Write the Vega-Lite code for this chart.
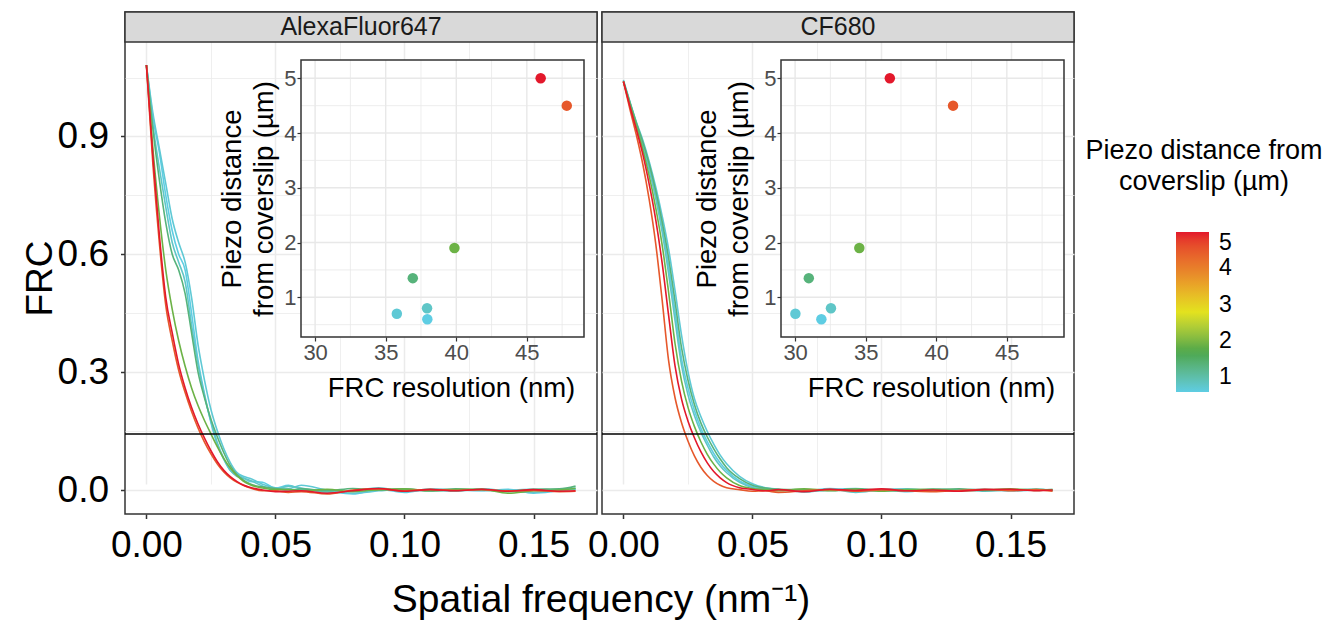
{
"$schema": "https://vega.github.io/schema/vega-lite/v6.json",
"padding": {"left": 20, "top": 10, "right": 0, "bottom": 0},
"config": {"font": "Liberation Sans", "view": {"stroke": null}},
"datasets": {
"curves": [
{"d":"A","p":0.6,"x":0,"y":1.082},{"d":"A","p":0.6,"x":0.0025,"y":0.95},{"d":"A","p":0.6,"x":0.005,"y":0.86},{"d":"A","p":0.6,"x":0.0075,"y":0.75},{"d":"A","p":0.6,"x":0.01,"y":0.66},{"d":"A","p":0.6,"x":0.0125,"y":0.6},{"d":"A","p":0.6,"x":0.015,"y":0.56},{"d":"A","p":0.6,"x":0.0175,"y":0.45},{"d":"A","p":0.6,"x":0.02,"y":0.33},{"d":"A","p":0.6,"x":0.0225,"y":0.245},{"d":"A","p":0.6,"x":0.025,"y":0.172},{"d":"A","p":0.6,"x":0.0275,"y":0.115},{"d":"A","p":0.6,"x":0.03,"y":0.078},{"d":"A","p":0.6,"x":0.0325,"y":0.05},{"d":"A","p":0.6,"x":0.035,"y":0.04},{"d":"A","p":0.6,"x":0.0375,"y":0.032},{"d":"A","p":0.6,"x":0.04,"y":0.022},{"d":"A","p":0.6,"x":0.045,"y":0.02},{"d":"A","p":0.6,"x":0.05,"y":0.005},{"d":"A","p":0.6,"x":0.055,"y":0.012},{"d":"A","p":0.6,"x":0.06,"y":0.002},{"d":"A","p":0.6,"x":0.07,"y":-0.004},{"d":"A","p":0.6,"x":0.08,"y":-0.01},{"d":"A","p":0.6,"x":0.09,"y":0.002},{"d":"A","p":0.6,"x":0.1,"y":-0.006},{"d":"A","p":0.6,"x":0.11,"y":0.003},{"d":"A","p":0.6,"x":0.12,"y":0},{"d":"A","p":0.6,"x":0.13,"y":-0.002},{"d":"A","p":0.6,"x":0.14,"y":0.002},{"d":"A","p":0.6,"x":0.15,"y":-0.008},{"d":"A","p":0.6,"x":0.16,"y":-0.002},{"d":"A","p":0.6,"x":0.1663,"y":0.002},
{"d":"A","p":0.7,"x":0,"y":1.082},{"d":"A","p":0.7,"x":0.0025,"y":0.96},{"d":"A","p":0.7,"x":0.005,"y":0.87},{"d":"A","p":0.7,"x":0.0075,"y":0.78},{"d":"A","p":0.7,"x":0.01,"y":0.69},{"d":"A","p":0.7,"x":0.0125,"y":0.63},{"d":"A","p":0.7,"x":0.015,"y":0.58},{"d":"A","p":0.7,"x":0.0175,"y":0.49},{"d":"A","p":0.7,"x":0.02,"y":0.37},{"d":"A","p":0.7,"x":0.0225,"y":0.28},{"d":"A","p":0.7,"x":0.025,"y":0.205},{"d":"A","p":0.7,"x":0.0275,"y":0.15},{"d":"A","p":0.7,"x":0.03,"y":0.105},{"d":"A","p":0.7,"x":0.0325,"y":0.07},{"d":"A","p":0.7,"x":0.035,"y":0.045},{"d":"A","p":0.7,"x":0.0375,"y":0.035},{"d":"A","p":0.7,"x":0.04,"y":0.03},{"d":"A","p":0.7,"x":0.045,"y":0.015},{"d":"A","p":0.7,"x":0.05,"y":0.006},{"d":"A","p":0.7,"x":0.055,"y":0.004},{"d":"A","p":0.7,"x":0.06,"y":0.012},{"d":"A","p":0.7,"x":0.07,"y":0},{"d":"A","p":0.7,"x":0.08,"y":-0.008},{"d":"A","p":0.7,"x":0.09,"y":-0.002},{"d":"A","p":0.7,"x":0.1,"y":0.003},{"d":"A","p":0.7,"x":0.11,"y":-0.003},{"d":"A","p":0.7,"x":0.12,"y":0.001},{"d":"A","p":0.7,"x":0.13,"y":-0.001},{"d":"A","p":0.7,"x":0.14,"y":0},{"d":"A","p":0.7,"x":0.15,"y":0.002},{"d":"A","p":0.7,"x":0.16,"y":0},{"d":"A","p":0.7,"x":0.1663,"y":0.003},
{"d":"A","p":0.8,"x":0,"y":1.082},{"d":"A","p":0.8,"x":0.0025,"y":0.93},{"d":"A","p":0.8,"x":0.005,"y":0.82},{"d":"A","p":0.8,"x":0.0075,"y":0.72},{"d":"A","p":0.8,"x":0.01,"y":0.63},{"d":"A","p":0.8,"x":0.0125,"y":0.58},{"d":"A","p":0.8,"x":0.015,"y":0.53},{"d":"A","p":0.8,"x":0.0175,"y":0.42},{"d":"A","p":0.8,"x":0.02,"y":0.32},{"d":"A","p":0.8,"x":0.0225,"y":0.24},{"d":"A","p":0.8,"x":0.025,"y":0.175},{"d":"A","p":0.8,"x":0.0275,"y":0.12},{"d":"A","p":0.8,"x":0.03,"y":0.08},{"d":"A","p":0.8,"x":0.0325,"y":0.05},{"d":"A","p":0.8,"x":0.035,"y":0.035},{"d":"A","p":0.8,"x":0.0375,"y":0.03},{"d":"A","p":0.8,"x":0.04,"y":0.025},{"d":"A","p":0.8,"x":0.045,"y":0.01},{"d":"A","p":0.8,"x":0.05,"y":0.002},{"d":"A","p":0.8,"x":0.055,"y":0.01},{"d":"A","p":0.8,"x":0.06,"y":0.005},{"d":"A","p":0.8,"x":0.07,"y":-0.006},{"d":"A","p":0.8,"x":0.08,"y":-0.002},{"d":"A","p":0.8,"x":0.09,"y":0.006},{"d":"A","p":0.8,"x":0.1,"y":-0.004},{"d":"A","p":0.8,"x":0.11,"y":0},{"d":"A","p":0.8,"x":0.12,"y":-0.003},{"d":"A","p":0.8,"x":0.13,"y":0.003},{"d":"A","p":0.8,"x":0.14,"y":-0.002},{"d":"A","p":0.8,"x":0.15,"y":-0.006},{"d":"A","p":0.8,"x":0.16,"y":0.001},{"d":"A","p":0.8,"x":0.1663,"y":0.005},
{"d":"A","p":1.35,"x":0,"y":1.082},{"d":"A","p":1.35,"x":0.0025,"y":0.92},{"d":"A","p":1.35,"x":0.005,"y":0.79},{"d":"A","p":1.35,"x":0.0075,"y":0.68},{"d":"A","p":1.35,"x":0.01,"y":0.6},{"d":"A","p":1.35,"x":0.0125,"y":0.56},{"d":"A","p":1.35,"x":0.015,"y":0.5},{"d":"A","p":1.35,"x":0.0175,"y":0.4},{"d":"A","p":1.35,"x":0.02,"y":0.3},{"d":"A","p":1.35,"x":0.0225,"y":0.235},{"d":"A","p":1.35,"x":0.025,"y":0.18},{"d":"A","p":1.35,"x":0.0275,"y":0.135},{"d":"A","p":1.35,"x":0.03,"y":0.095},{"d":"A","p":1.35,"x":0.0325,"y":0.062},{"d":"A","p":1.35,"x":0.035,"y":0.04},{"d":"A","p":1.35,"x":0.0375,"y":0.026},{"d":"A","p":1.35,"x":0.04,"y":0.016},{"d":"A","p":1.35,"x":0.045,"y":0.008},{"d":"A","p":1.35,"x":0.05,"y":0.004},{"d":"A","p":1.35,"x":0.055,"y":0},{"d":"A","p":1.35,"x":0.06,"y":0.003},{"d":"A","p":1.35,"x":0.07,"y":-0.002},{"d":"A","p":1.35,"x":0.08,"y":0.004},{"d":"A","p":1.35,"x":0.09,"y":0},{"d":"A","p":1.35,"x":0.1,"y":0.002},{"d":"A","p":1.35,"x":0.11,"y":-0.001},{"d":"A","p":1.35,"x":0.12,"y":0.003},{"d":"A","p":1.35,"x":0.13,"y":0},{"d":"A","p":1.35,"x":0.14,"y":-0.004},{"d":"A","p":1.35,"x":0.15,"y":0.002},{"d":"A","p":1.35,"x":0.16,"y":0.003},{"d":"A","p":1.35,"x":0.1663,"y":0.01},
{"d":"A","p":1.9,"x":0,"y":1.082},{"d":"A","p":1.9,"x":0.0025,"y":0.87},{"d":"A","p":1.9,"x":0.005,"y":0.7},{"d":"A","p":1.9,"x":0.0075,"y":0.56},{"d":"A","p":1.9,"x":0.01,"y":0.46},{"d":"A","p":1.9,"x":0.0125,"y":0.38},{"d":"A","p":1.9,"x":0.015,"y":0.315},{"d":"A","p":1.9,"x":0.0175,"y":0.26},{"d":"A","p":1.9,"x":0.02,"y":0.215},{"d":"A","p":1.9,"x":0.0225,"y":0.177},{"d":"A","p":1.9,"x":0.025,"y":0.143},{"d":"A","p":1.9,"x":0.0275,"y":0.11},{"d":"A","p":1.9,"x":0.03,"y":0.08},{"d":"A","p":1.9,"x":0.0325,"y":0.056},{"d":"A","p":1.9,"x":0.035,"y":0.037},{"d":"A","p":1.9,"x":0.0375,"y":0.023},{"d":"A","p":1.9,"x":0.04,"y":0.014},{"d":"A","p":1.9,"x":0.045,"y":0.005},{"d":"A","p":1.9,"x":0.05,"y":0.001},{"d":"A","p":1.9,"x":0.055,"y":0.002},{"d":"A","p":1.9,"x":0.06,"y":-0.003},{"d":"A","p":1.9,"x":0.07,"y":0.002},{"d":"A","p":1.9,"x":0.08,"y":-0.004},{"d":"A","p":1.9,"x":0.09,"y":0.001},{"d":"A","p":1.9,"x":0.1,"y":0.003},{"d":"A","p":1.9,"x":0.11,"y":-0.002},{"d":"A","p":1.9,"x":0.12,"y":0.001},{"d":"A","p":1.9,"x":0.13,"y":0.002},{"d":"A","p":1.9,"x":0.14,"y":-0.008},{"d":"A","p":1.9,"x":0.15,"y":-0.002},{"d":"A","p":1.9,"x":0.16,"y":0},{"d":"A","p":1.9,"x":0.1663,"y":0.004},
{"d":"A","p":4.5,"x":0,"y":1.082},{"d":"A","p":4.5,"x":0.0025,"y":0.83},{"d":"A","p":4.5,"x":0.005,"y":0.63},{"d":"A","p":4.5,"x":0.0075,"y":0.47},{"d":"A","p":4.5,"x":0.01,"y":0.38},{"d":"A","p":4.5,"x":0.0125,"y":0.305},{"d":"A","p":4.5,"x":0.015,"y":0.248},{"d":"A","p":4.5,"x":0.0175,"y":0.2},{"d":"A","p":4.5,"x":0.02,"y":0.158},{"d":"A","p":4.5,"x":0.0225,"y":0.122},{"d":"A","p":4.5,"x":0.025,"y":0.092},{"d":"A","p":4.5,"x":0.0275,"y":0.066},{"d":"A","p":4.5,"x":0.03,"y":0.046},{"d":"A","p":4.5,"x":0.0325,"y":0.031},{"d":"A","p":4.5,"x":0.035,"y":0.02},{"d":"A","p":4.5,"x":0.0375,"y":0.012},{"d":"A","p":4.5,"x":0.04,"y":0.006},{"d":"A","p":4.5,"x":0.045,"y":-0.002},{"d":"A","p":4.5,"x":0.05,"y":-0.002},{"d":"A","p":4.5,"x":0.055,"y":-0.006},{"d":"A","p":4.5,"x":0.06,"y":-0.004},{"d":"A","p":4.5,"x":0.07,"y":-0.01},{"d":"A","p":4.5,"x":0.08,"y":0},{"d":"A","p":4.5,"x":0.09,"y":0.003},{"d":"A","p":4.5,"x":0.1,"y":-0.002},{"d":"A","p":4.5,"x":0.11,"y":0.002},{"d":"A","p":4.5,"x":0.12,"y":-0.001},{"d":"A","p":4.5,"x":0.13,"y":0.001},{"d":"A","p":4.5,"x":0.14,"y":-0.002},{"d":"A","p":4.5,"x":0.15,"y":-0.001},{"d":"A","p":4.5,"x":0.16,"y":-0.004},{"d":"A","p":4.5,"x":0.1663,"y":-0.003},
{"d":"A","p":5,"x":0,"y":1.082},{"d":"A","p":5,"x":0.0025,"y":0.85},{"d":"A","p":5,"x":0.005,"y":0.65},{"d":"A","p":5,"x":0.0075,"y":0.49},{"d":"A","p":5,"x":0.01,"y":0.4},{"d":"A","p":5,"x":0.0125,"y":0.32},{"d":"A","p":5,"x":0.015,"y":0.26},{"d":"A","p":5,"x":0.0175,"y":0.21},{"d":"A","p":5,"x":0.02,"y":0.168},{"d":"A","p":5,"x":0.0225,"y":0.132},{"d":"A","p":5,"x":0.025,"y":0.1},{"d":"A","p":5,"x":0.0275,"y":0.072},{"d":"A","p":5,"x":0.03,"y":0.05},{"d":"A","p":5,"x":0.0325,"y":0.034},{"d":"A","p":5,"x":0.035,"y":0.022},{"d":"A","p":5,"x":0.0375,"y":0.013},{"d":"A","p":5,"x":0.04,"y":0.007},{"d":"A","p":5,"x":0.045,"y":0},{"d":"A","p":5,"x":0.05,"y":-0.004},{"d":"A","p":5,"x":0.055,"y":-0.003},{"d":"A","p":5,"x":0.06,"y":-0.002},{"d":"A","p":5,"x":0.07,"y":-0.008},{"d":"A","p":5,"x":0.08,"y":-0.002},{"d":"A","p":5,"x":0.09,"y":0.004},{"d":"A","p":5,"x":0.1,"y":-0.003},{"d":"A","p":5,"x":0.11,"y":0.001},{"d":"A","p":5,"x":0.12,"y":-0.002},{"d":"A","p":5,"x":0.13,"y":0.002},{"d":"A","p":5,"x":0.14,"y":-0.003},{"d":"A","p":5,"x":0.15,"y":0.001},{"d":"A","p":5,"x":0.16,"y":-0.003},{"d":"A","p":5,"x":0.1663,"y":-0.002},
{"d":"C","p":0.6,"x":0,"y":1.04},{"d":"C","p":0.6,"x":0.0025,"y":0.986},{"d":"C","p":0.6,"x":0.005,"y":0.932},{"d":"C","p":0.6,"x":0.0075,"y":0.881},{"d":"C","p":0.6,"x":0.01,"y":0.821},{"d":"C","p":0.6,"x":0.0125,"y":0.751},{"d":"C","p":0.6,"x":0.015,"y":0.669},{"d":"C","p":0.6,"x":0.0175,"y":0.57},{"d":"C","p":0.6,"x":0.02,"y":0.454},{"d":"C","p":0.6,"x":0.0225,"y":0.335},{"d":"C","p":0.6,"x":0.025,"y":0.26},{"d":"C","p":0.6,"x":0.0275,"y":0.203},{"d":"C","p":0.6,"x":0.03,"y":0.158},{"d":"C","p":0.6,"x":0.0325,"y":0.123},{"d":"C","p":0.6,"x":0.035,"y":0.093},{"d":"C","p":0.6,"x":0.0375,"y":0.069},{"d":"C","p":0.6,"x":0.04,"y":0.05},{"d":"C","p":0.6,"x":0.045,"y":0.023},{"d":"C","p":0.6,"x":0.05,"y":0.009},{"d":"C","p":0.6,"x":0.055,"y":0.003},{"d":"C","p":0.6,"x":0.06,"y":0},{"d":"C","p":0.6,"x":0.07,"y":-0.003},{"d":"C","p":0.6,"x":0.08,"y":0.004},{"d":"C","p":0.6,"x":0.09,"y":-0.002},{"d":"C","p":0.6,"x":0.1,"y":0.001},{"d":"C","p":0.6,"x":0.11,"y":-0.004},{"d":"C","p":0.6,"x":0.12,"y":0.002},{"d":"C","p":0.6,"x":0.13,"y":0},{"d":"C","p":0.6,"x":0.14,"y":0.002},{"d":"C","p":0.6,"x":0.15,"y":-0.002},{"d":"C","p":0.6,"x":0.16,"y":0.001},{"d":"C","p":0.6,"x":0.1663,"y":0},
{"d":"C","p":0.7,"x":0,"y":1.044},{"d":"C","p":0.7,"x":0.0025,"y":0.989},{"d":"C","p":0.7,"x":0.005,"y":0.937},{"d":"C","p":0.7,"x":0.0075,"y":0.891},{"d":"C","p":0.7,"x":0.01,"y":0.836},{"d":"C","p":0.7,"x":0.0125,"y":0.772},{"d":"C","p":0.7,"x":0.015,"y":0.698},{"d":"C","p":0.7,"x":0.0175,"y":0.614},{"d":"C","p":0.7,"x":0.02,"y":0.508},{"d":"C","p":0.7,"x":0.0225,"y":0.395},{"d":"C","p":0.7,"x":0.025,"y":0.302},{"d":"C","p":0.7,"x":0.0275,"y":0.233},{"d":"C","p":0.7,"x":0.03,"y":0.187},{"d":"C","p":0.7,"x":0.0325,"y":0.149},{"d":"C","p":0.7,"x":0.035,"y":0.117},{"d":"C","p":0.7,"x":0.0375,"y":0.089},{"d":"C","p":0.7,"x":0.04,"y":0.067},{"d":"C","p":0.7,"x":0.045,"y":0.035},{"d":"C","p":0.7,"x":0.05,"y":0.016},{"d":"C","p":0.7,"x":0.055,"y":0.006},{"d":"C","p":0.7,"x":0.06,"y":0.002},{"d":"C","p":0.7,"x":0.07,"y":-0.005},{"d":"C","p":0.7,"x":0.08,"y":0.001},{"d":"C","p":0.7,"x":0.09,"y":0.004},{"d":"C","p":0.7,"x":0.1,"y":-0.003},{"d":"C","p":0.7,"x":0.11,"y":0},{"d":"C","p":0.7,"x":0.12,"y":0.002},{"d":"C","p":0.7,"x":0.13,"y":-0.001},{"d":"C","p":0.7,"x":0.14,"y":0.001},{"d":"C","p":0.7,"x":0.15,"y":-0.002},{"d":"C","p":0.7,"x":0.16,"y":0},{"d":"C","p":0.7,"x":0.1663,"y":0.001},
{"d":"C","p":0.8,"x":0,"y":1.04},{"d":"C","p":0.8,"x":0.0025,"y":0.985},{"d":"C","p":0.8,"x":0.005,"y":0.93},{"d":"C","p":0.8,"x":0.0075,"y":0.877},{"d":"C","p":0.8,"x":0.01,"y":0.815},{"d":"C","p":0.8,"x":0.0125,"y":0.743},{"d":"C","p":0.8,"x":0.015,"y":0.657},{"d":"C","p":0.8,"x":0.0175,"y":0.551},{"d":"C","p":0.8,"x":0.02,"y":0.432},{"d":"C","p":0.8,"x":0.0225,"y":0.318},{"d":"C","p":0.8,"x":0.025,"y":0.243},{"d":"C","p":0.8,"x":0.0275,"y":0.19},{"d":"C","p":0.8,"x":0.03,"y":0.148},{"d":"C","p":0.8,"x":0.0325,"y":0.114},{"d":"C","p":0.8,"x":0.035,"y":0.084},{"d":"C","p":0.8,"x":0.0375,"y":0.061},{"d":"C","p":0.8,"x":0.04,"y":0.044},{"d":"C","p":0.8,"x":0.045,"y":0.0195},{"d":"C","p":0.8,"x":0.05,"y":0.0067},{"d":"C","p":0.8,"x":0.055,"y":0.0025},{"d":"C","p":0.8,"x":0.06,"y":0.001},{"d":"C","p":0.8,"x":0.07,"y":-0.004},{"d":"C","p":0.8,"x":0.08,"y":0.002},{"d":"C","p":0.8,"x":0.09,"y":-0.006},{"d":"C","p":0.8,"x":0.1,"y":0.001},{"d":"C","p":0.8,"x":0.11,"y":0.003},{"d":"C","p":0.8,"x":0.12,"y":-0.002},{"d":"C","p":0.8,"x":0.13,"y":0.001},{"d":"C","p":0.8,"x":0.14,"y":-0.003},{"d":"C","p":0.8,"x":0.15,"y":0},{"d":"C","p":0.8,"x":0.16,"y":0.002},{"d":"C","p":0.8,"x":0.1663,"y":-0.001},
{"d":"C","p":1.35,"x":0,"y":1.04},{"d":"C","p":1.35,"x":0.0025,"y":0.987},{"d":"C","p":1.35,"x":0.005,"y":0.935},{"d":"C","p":1.35,"x":0.0075,"y":0.886},{"d":"C","p":1.35,"x":0.01,"y":0.83},{"d":"C","p":1.35,"x":0.0125,"y":0.762},{"d":"C","p":1.35,"x":0.015,"y":0.683},{"d":"C","p":1.35,"x":0.0175,"y":0.591},{"d":"C","p":1.35,"x":0.02,"y":0.48},{"d":"C","p":1.35,"x":0.0225,"y":0.363},{"d":"C","p":1.35,"x":0.025,"y":0.28},{"d":"C","p":1.35,"x":0.0275,"y":0.218},{"d":"C","p":1.35,"x":0.03,"y":0.171},{"d":"C","p":1.35,"x":0.0325,"y":0.135},{"d":"C","p":1.35,"x":0.035,"y":0.105},{"d":"C","p":1.35,"x":0.0375,"y":0.079},{"d":"C","p":1.35,"x":0.04,"y":0.057},{"d":"C","p":1.35,"x":0.045,"y":0.029},{"d":"C","p":1.35,"x":0.05,"y":0.012},{"d":"C","p":1.35,"x":0.055,"y":0.005},{"d":"C","p":1.35,"x":0.06,"y":0.002},{"d":"C","p":1.35,"x":0.07,"y":0.001},{"d":"C","p":1.35,"x":0.08,"y":-0.002},{"d":"C","p":1.35,"x":0.09,"y":0.003},{"d":"C","p":1.35,"x":0.1,"y":0},{"d":"C","p":1.35,"x":0.11,"y":-0.002},{"d":"C","p":1.35,"x":0.12,"y":0.001},{"d":"C","p":1.35,"x":0.13,"y":0.003},{"d":"C","p":1.35,"x":0.14,"y":-0.001},{"d":"C","p":1.35,"x":0.15,"y":0},{"d":"C","p":1.35,"x":0.16,"y":0.002},{"d":"C","p":1.35,"x":0.1663,"y":-0.001},
{"d":"C","p":1.9,"x":0,"y":1.04},{"d":"C","p":1.9,"x":0.0025,"y":0.981},{"d":"C","p":1.9,"x":0.005,"y":0.925},{"d":"C","p":1.9,"x":0.0075,"y":0.867},{"d":"C","p":1.9,"x":0.01,"y":0.799},{"d":"C","p":1.9,"x":0.0125,"y":0.719},{"d":"C","p":1.9,"x":0.015,"y":0.624},{"d":"C","p":1.9,"x":0.0175,"y":0.504},{"d":"C","p":1.9,"x":0.02,"y":0.373},{"d":"C","p":1.9,"x":0.0225,"y":0.278},{"d":"C","p":1.9,"x":0.025,"y":0.211},{"d":"C","p":1.9,"x":0.0275,"y":0.162},{"d":"C","p":1.9,"x":0.03,"y":0.123},{"d":"C","p":1.9,"x":0.0325,"y":0.091},{"d":"C","p":1.9,"x":0.035,"y":0.066},{"d":"C","p":1.9,"x":0.0375,"y":0.046},{"d":"C","p":1.9,"x":0.04,"y":0.031},{"d":"C","p":1.9,"x":0.045,"y":0.0115},{"d":"C","p":1.9,"x":0.05,"y":0.004},{"d":"C","p":1.9,"x":0.055,"y":0.001},{"d":"C","p":1.9,"x":0.06,"y":-0.002},{"d":"C","p":1.9,"x":0.07,"y":0.003},{"d":"C","p":1.9,"x":0.08,"y":-0.001},{"d":"C","p":1.9,"x":0.09,"y":0.002},{"d":"C","p":1.9,"x":0.1,"y":-0.003},{"d":"C","p":1.9,"x":0.11,"y":0.001},{"d":"C","p":1.9,"x":0.12,"y":0.002},{"d":"C","p":1.9,"x":0.13,"y":-0.002},{"d":"C","p":1.9,"x":0.14,"y":0},{"d":"C","p":1.9,"x":0.15,"y":0.003},{"d":"C","p":1.9,"x":0.16,"y":-0.001},{"d":"C","p":1.9,"x":0.1663,"y":0.001},
{"d":"C","p":4.5,"x":0,"y":1.04},{"d":"C","p":4.5,"x":0.0025,"y":0.97},{"d":"C","p":4.5,"x":0.005,"y":0.904},{"d":"C","p":4.5,"x":0.0075,"y":0.83},{"d":"C","p":4.5,"x":0.01,"y":0.739},{"d":"C","p":4.5,"x":0.0125,"y":0.628},{"d":"C","p":4.5,"x":0.015,"y":0.484},{"d":"C","p":4.5,"x":0.0175,"y":0.33},{"d":"C","p":4.5,"x":0.02,"y":0.235},{"d":"C","p":4.5,"x":0.0225,"y":0.172},{"d":"C","p":4.5,"x":0.025,"y":0.125},{"d":"C","p":4.5,"x":0.0275,"y":0.087},{"d":"C","p":4.5,"x":0.03,"y":0.058},{"d":"C","p":4.5,"x":0.0325,"y":0.037},{"d":"C","p":4.5,"x":0.035,"y":0.022},{"d":"C","p":4.5,"x":0.0375,"y":0.012},{"d":"C","p":4.5,"x":0.04,"y":0.006},{"d":"C","p":4.5,"x":0.045,"y":0.001},{"d":"C","p":4.5,"x":0.05,"y":-0.003},{"d":"C","p":4.5,"x":0.055,"y":-0.002},{"d":"C","p":4.5,"x":0.06,"y":-0.006},{"d":"C","p":4.5,"x":0.07,"y":-0.002},{"d":"C","p":4.5,"x":0.08,"y":0.001},{"d":"C","p":4.5,"x":0.09,"y":-0.003},{"d":"C","p":4.5,"x":0.1,"y":0},{"d":"C","p":4.5,"x":0.11,"y":-0.002},{"d":"C","p":4.5,"x":0.12,"y":-0.004},{"d":"C","p":4.5,"x":0.13,"y":-0.001},{"d":"C","p":4.5,"x":0.14,"y":0.002},{"d":"C","p":4.5,"x":0.15,"y":-0.002},{"d":"C","p":4.5,"x":0.16,"y":0.001},{"d":"C","p":4.5,"x":0.1663,"y":-0.003},
{"d":"C","p":5,"x":0,"y":1.04},{"d":"C","p":5,"x":0.0025,"y":0.977},{"d":"C","p":5,"x":0.005,"y":0.918},{"d":"C","p":5,"x":0.0075,"y":0.855},{"d":"C","p":5,"x":0.01,"y":0.778},{"d":"C","p":5,"x":0.0125,"y":0.689},{"d":"C","p":5,"x":0.015,"y":0.578},{"d":"C","p":5,"x":0.0175,"y":0.445},{"d":"C","p":5,"x":0.02,"y":0.316},{"d":"C","p":5,"x":0.0225,"y":0.232},{"d":"C","p":5,"x":0.025,"y":0.176},{"d":"C","p":5,"x":0.0275,"y":0.133},{"d":"C","p":5,"x":0.03,"y":0.0975},{"d":"C","p":5,"x":0.0325,"y":0.069},{"d":"C","p":5,"x":0.035,"y":0.047},{"d":"C","p":5,"x":0.0375,"y":0.031},{"d":"C","p":5,"x":0.04,"y":0.019},{"d":"C","p":5,"x":0.045,"y":0.006},{"d":"C","p":5,"x":0.05,"y":0.0015},{"d":"C","p":5,"x":0.055,"y":-0.002},{"d":"C","p":5,"x":0.06,"y":0.001},{"d":"C","p":5,"x":0.07,"y":-0.004},{"d":"C","p":5,"x":0.08,"y":0.002},{"d":"C","p":5,"x":0.09,"y":-0.001},{"d":"C","p":5,"x":0.1,"y":0.003},{"d":"C","p":5,"x":0.11,"y":-0.002},{"d":"C","p":5,"x":0.12,"y":0},{"d":"C","p":5,"x":0.13,"y":-0.003},{"d":"C","p":5,"x":0.14,"y":0.001},{"d":"C","p":5,"x":0.15,"y":0.002},{"d":"C","p":5,"x":0.16,"y":-0.002},{"d":"C","p":5,"x":0.1663,"y":0}
],
"inset": [
{"d":"A","p":0.6,"res":37.95},{"d":"A","p":0.7,"res":35.79},{"d":"A","p":0.8,"res":37.93},{"d":"A","p":1.35,"res":36.92},{"d":"A","p":1.9,"res":39.87},{"d":"A","p":4.5,"res":47.83},{"d":"A","p":5,"res":45.98},
{"d":"C","p":0.6,"res":31.86},{"d":"C","p":0.7,"res":30.02},{"d":"C","p":0.8,"res":32.54},{"d":"C","p":1.35,"res":30.97},{"d":"C","p":1.9,"res":34.55},{"d":"C","p":4.5,"res":41.19},{"d":"C","p":5,"res":36.71}
],
"thr": [{"frc": 0.142857}],
"gx": [{"v":30,"k":"major"},{"v":32.5,"k":"minor"},{"v":35,"k":"major"},{"v":37.5,"k":"minor"},{"v":40,"k":"major"},{"v":42.5,"k":"minor"},{"v":45,"k":"major"},{"v":47.5,"k":"minor"}],
"gy": [{"v":0.5,"k":"minor"},{"v":1,"k":"major"},{"v":1.5,"k":"minor"},{"v":2,"k":"major"},{"v":2.5,"k":"minor"},{"v":3,"k":"major"},{"v":3.5,"k":"minor"},{"v":4,"k":"major"},{"v":4.5,"k":"minor"},{"v":5,"k":"major"}]
},
"hconcat": [
{
"width": 472, "height": 502,
"view": {"stroke": "#333333", "strokeWidth": 1.5},
"resolve": {"scale": {"x": "independent", "y": "independent"}},
"layer": [
{
"layer": [
{
"data": {"name": "curves"},
"transform": [{"filter": "datum.d === 'A'"}],
"mark": {"type": "line", "strokeWidth": 1.6, "interpolate": "monotone"},
"encoding": {
"x": {"field": "x", "type": "quantitative", "scale": {"domain": [-0.0083, 0.1746], "nice": false, "zero": false},
"axis": {"orient": "bottom", "values": [0, 0.025, 0.05, 0.075, 0.1, 0.125, 0.15],
"labelExpr": "abs(datum.value*20 - round(datum.value*20)) < 0.000001 ? format(datum.value, '.2f') : ''",
"grid": true, "gridColor": "#ebebeb",
"gridWidth": {"condition": {"test": "abs(datum.value*20 - round(datum.value*20)) < 0.000001", "value": 1.5}, "value": 0.8},
"tickOpacity": {"condition": {"test": "abs(datum.value*20 - round(datum.value*20)) < 0.000001", "value": 1}, "value": 0},
"tickColor": "#333333", "tickSize": 4.5, "tickWidth": 1.5, "domain": false,
"labelFontSize": 37, "labelColor": "#000000", "labelPadding": 9, "labelFlush": false, "labelOverlap": false,
"title": "Spatial frequency (nm⁻¹)", "titleFontSize": 39, "titleFontWeight": "normal", "titleColor": "#000000",
"titleX": 475.5, "titleY": 97, "titleBaseline": "alphabetic", "titleAlign": "center"}},
"y": {"field": "y", "type": "quantitative", "scale": {"domain": [-0.061, 1.1405], "range": [502, 30], "nice": false, "zero": false},
"axis": {"orient": "left", "values": [0, 0.15, 0.3, 0.45, 0.6, 0.75, 0.9, 1.05],
"labelExpr": "abs(datum.value/0.3 - round(datum.value/0.3)) < 0.000001 ? format(datum.value, '.1f') : ''",
"grid": true, "gridColor": "#ebebeb",
"gridWidth": {"condition": {"test": "abs(datum.value/0.3 - round(datum.value/0.3)) < 0.000001", "value": 1.5}, "value": 0.8},
"tickOpacity": {"condition": {"test": "abs(datum.value/0.3 - round(datum.value/0.3)) < 0.000001", "value": 1}, "value": 0},
"tickColor": "#333333", "tickSize": 4.5, "tickWidth": 1.5, "domain": false,
"labelFontSize": 37, "labelColor": "#000000", "labelPadding": 12, "labelOverlap": false, "labelFlush": false,
"title": "FRC", "titleFontSize": 37, "titleFontWeight": "normal", "titleColor": "#000000",
"titleX": -74, "titleY": 266, "titleAngle": 270, "titleBaseline": "alphabetic", "titleAlign": "center"}},
"stroke": {"field": "p", "type": "quantitative",
"scale": {"type": "linear", "domain": [0.6, 1.7, 2.8, 3.9, 5.0], "range": ["#5ecde3", "#4ba74a", "#e3e21e", "#e8862a", "#e3182b"], "interpolate": "lab"},
"legend": {"type": "gradient", "orient": "none", "legendX": 960, "legendY": 126, "direction": "vertical", "padding": 0,
"title": ["Piezo distance from", "coverslip (µm)"], "titleFontSize": 27, "titleFontWeight": "normal", "titleColor": "#000000", "titleLimit": 600,
"titleAnchor": "middle", "titleAlign": "center", "titleLineHeight": 31, "titlePadding": 36,
"gradientLength": 160, "gradientThickness": 33, "gradientStrokeWidth": 0,
"labelFontSize": 23, "labelColor": "#000000", "labelOffset": 10, "values": [1, 2, 3, 4, 5]}},
"detail": {"field": "p", "type": "nominal"}
}
},
{
"data": {"name": "thr"},
"mark": {"type": "rule", "color": "#000000", "strokeWidth": 1.5},
"encoding": {"y": {"field": "frc", "type": "quantitative", "scale": {"domain": [-0.061, 1.1405], "range": [502, 30], "nice": false, "zero": false}}}
}
]
},
{
"layer": [
{
"data": {"values": [{"lab": "AlexaFluor647"}]},
"mark": {"type": "rect", "fill": "#d9d9d9", "stroke": "#333333", "strokeWidth": 1.5},
"encoding": {
"x": {"datum": 0, "type": "quantitative", "scale": {"domain": [0, 1], "range": [0, 472], "nice": false, "zero": false}, "axis": null},
"x2": {"datum": 1},
"y": {"datum": 0, "type": "quantitative", "scale": {"domain": [0, 1], "range": [30, 0], "nice": false, "zero": false}, "axis": null},
"y2": {"datum": 1}
}
},
{
"data": {"values": [{"lab": "AlexaFluor647"}]},
"mark": {"type": "text", "fontSize": 25, "color": "#1a1a1a"},
"encoding": {
"x": {"datum": 0.5, "type": "quantitative", "scale": {"domain": [0, 1], "range": [0, 472], "nice": false, "zero": false}, "axis": null},
"y": {"datum": 0.5, "type": "quantitative", "scale": {"domain": [0, 1], "range": [30, 0], "nice": false, "zero": false}, "axis": null},
"text": {"field": "lab", "type": "nominal"}
}
}
]
},
{
"layer": [
{
"data": {"values": [{}]},
"mark": {"type": "rect", "fill": "#ffffff", "stroke": null},
"encoding": {
"x": {"datum": 29.0, "type": "quantitative", "scale": {"domain": [29.0, 49.05], "range": [176, 459], "nice": false, "zero": false}},
"x2": {"datum": 49.05},
"y": {"datum": 0.275, "type": "quantitative", "scale": {"domain": [0.275, 5.334], "range": [325, 48], "nice": false, "zero": false}},
"y2": {"datum": 5.334}
}
},
{
"data": {"name": "gx"},
"mark": {"type": "rule", "color": "#e8e8e8"},
"encoding": {
"x": {"field": "v", "type": "quantitative", "scale": {"domain": [29.0, 49.05], "range": [176, 459], "nice": false, "zero": false}},
"y": {"datum": 0.275, "type": "quantitative", "scale": {"domain": [0.275, 5.334], "range": [325, 48], "nice": false, "zero": false}},
"y2": {"datum": 5.334},
"strokeWidth": {"field": "k", "type": "nominal", "scale": {"domain": ["major", "minor"], "range": [1.4, 0.8]}, "legend": null}
}
},
{
"data": {"name": "gy"},
"mark": {"type": "rule", "color": "#e8e8e8"},
"encoding": {
"y": {"field": "v", "type": "quantitative", "scale": {"domain": [0.275, 5.334], "range": [325, 48], "nice": false, "zero": false}},
"x": {"datum": 29.0, "type": "quantitative", "scale": {"domain": [29.0, 49.05], "range": [176, 459], "nice": false, "zero": false}},
"x2": {"datum": 49.05},
"strokeWidth": {"field": "k", "type": "nominal", "scale": {"domain": ["major", "minor"], "range": [1.4, 0.8]}, "legend": null}
}
},
{
"data": {"values": [{}]},
"mark": {"type": "rect", "fill": null, "fillOpacity": 0, "stroke": "#333333", "strokeWidth": 1.5},
"encoding": {
"x": {"datum": 29.0, "type": "quantitative", "scale": {"domain": [29.0, 49.05], "range": [176, 459], "nice": false, "zero": false}},
"x2": {"datum": 49.05},
"y": {"datum": 0.275, "type": "quantitative", "scale": {"domain": [0.275, 5.334], "range": [325, 48], "nice": false, "zero": false}},
"y2": {"datum": 5.334}
}
},
{
"data": {"name": "inset"},
"transform": [{"filter": "datum.d === 'A'"}],
"mark": {"type": "circle", "size": 110, "opacity": 1},
"encoding": {
"x": {"field": "res", "type": "quantitative", "scale": {"domain": [29.0, 49.05], "range": [176, 459], "nice": false, "zero": false},
"axis": {"orient": "bottom", "offset": -177, "values": [30, 35, 40, 45], "format": ".0f", "grid": false, "domain": false,
"tickColor": "#333333", "tickSize": 4, "tickWidth": 1.2, "labelFontSize": 22, "labelColor": "#4d4d4d", "labelPadding": 1, "labelFlush": false,
"title": "FRC resolution (nm)", "titleFontSize": 27.5, "titleFontWeight": "normal", "titleColor": "#000000",
"titleX": 326, "titleY": 37, "titleBaseline": "top", "titleAlign": "center"}},
"y": {"field": "p", "type": "quantitative", "scale": {"domain": [0.275, 5.334], "range": [325, 48], "nice": false, "zero": false},
"axis": {"orient": "left", "offset": -176, "values": [1, 2, 3, 4, 5], "format": ".0f", "grid": false, "domain": false,
"tickColor": "#333333", "tickSize": 4, "tickWidth": 1.2, "labelFontSize": 22, "labelColor": "#4d4d4d", "labelPadding": 1, "labelFlush": false,
"title": ["Piezo distance", "from coverslip (µm)"], "titleFontSize": 27.5, "titleFontWeight": "normal", "titleColor": "#000000",
"titleX": -61, "titleY": 186.5, "titleAngle": 270, "titleBaseline": "alphabetic", "titleAlign": "center", "titleLineHeight": 32}},
"fill": {"field": "p", "type": "quantitative", "scale": {"type": "linear", "domain": [0.6, 1.7, 2.8, 3.9, 5.001], "range": ["#5ecde3", "#4ba74a", "#e3e21e", "#e8862a", "#e3182b"], "interpolate": "lab"}, "legend": null}
}
}
]
}
]
},
{
"width": 472, "height": 502,
"view": {"stroke": "#333333", "strokeWidth": 1.5},
"resolve": {"scale": {"x": "independent", "y": "independent"}},
"layer": [
{
"layer": [
{
"data": {"name": "curves"},
"transform": [{"filter": "datum.d === 'C'"}],
"mark": {"type": "line", "strokeWidth": 1.6, "interpolate": "monotone"},
"encoding": {
"x": {"field": "x", "type": "quantitative", "scale": {"domain": [-0.0083, 0.1746], "nice": false, "zero": false},
"axis": {"orient": "bottom", "values": [0, 0.025, 0.05, 0.075, 0.1, 0.125, 0.15],
"labelExpr": "abs(datum.value*20 - round(datum.value*20)) < 0.000001 ? format(datum.value, '.2f') : ''",
"grid": true, "gridColor": "#ebebeb",
"gridWidth": {"condition": {"test": "abs(datum.value*20 - round(datum.value*20)) < 0.000001", "value": 1.5}, "value": 0.8},
"tickOpacity": {"condition": {"test": "abs(datum.value*20 - round(datum.value*20)) < 0.000001", "value": 1}, "value": 0},
"tickColor": "#333333", "tickSize": 4.5, "tickWidth": 1.5, "domain": false,
"labelFontSize": 37, "labelColor": "#000000", "labelPadding": 9, "labelFlush": false, "labelOverlap": false,
"title": null}},
"y": {"field": "y", "type": "quantitative", "scale": {"domain": [-0.061, 1.1405], "range": [502, 30], "nice": false, "zero": false},
"axis": {"orient": "left", "values": [0, 0.15, 0.3, 0.45, 0.6, 0.75, 0.9, 1.05],
"grid": true, "gridColor": "#ebebeb",
"gridWidth": {"condition": {"test": "abs(datum.value/0.3 - round(datum.value/0.3)) < 0.000001", "value": 1.5}, "value": 0.8},
"ticks": false, "labels": false, "domain": false, "title": null}},
"stroke": {"field": "p", "type": "quantitative", "scale": {"type": "linear", "domain": [0.6, 1.7, 2.8, 3.9, 5.0], "range": ["#5ecde3", "#4ba74a", "#e3e21e", "#e8862a", "#e3182b"], "interpolate": "lab"}},
"detail": {"field": "p", "type": "nominal"}
}
},
{
"data": {"name": "thr"},
"mark": {"type": "rule", "color": "#000000", "strokeWidth": 1.5},
"encoding": {"y": {"field": "frc", "type": "quantitative", "scale": {"domain": [-0.061, 1.1405], "range": [502, 30], "nice": false, "zero": false}}}
}
]
},
{
"layer": [
{
"data": {"values": [{"lab": "CF680"}]},
"mark": {"type": "rect", "fill": "#d9d9d9", "stroke": "#333333", "strokeWidth": 1.5},
"encoding": {
"x": {"datum": 0, "type": "quantitative", "scale": {"domain": [0, 1], "range": [0, 472], "nice": false, "zero": false}, "axis": null},
"x2": {"datum": 1},
"y": {"datum": 0, "type": "quantitative", "scale": {"domain": [0, 1], "range": [30, 0], "nice": false, "zero": false}, "axis": null},
"y2": {"datum": 1}
}
},
{
"data": {"values": [{"lab": "CF680"}]},
"mark": {"type": "text", "fontSize": 25, "color": "#1a1a1a"},
"encoding": {
"x": {"datum": 0.5, "type": "quantitative", "scale": {"domain": [0, 1], "range": [0, 472], "nice": false, "zero": false}, "axis": null},
"y": {"datum": 0.5, "type": "quantitative", "scale": {"domain": [0, 1], "range": [30, 0], "nice": false, "zero": false}, "axis": null},
"text": {"field": "lab", "type": "nominal"}
}
}
]
},
{
"layer": [
{
"data": {"values": [{}]},
"mark": {"type": "rect", "fill": "#ffffff", "stroke": null},
"encoding": {
"x": {"datum": 29.0, "type": "quantitative", "scale": {"domain": [29.0, 49.05], "range": [179, 462], "nice": false, "zero": false}},
"x2": {"datum": 49.05},
"y": {"datum": 0.275, "type": "quantitative", "scale": {"domain": [0.275, 5.334], "range": [325, 48], "nice": false, "zero": false}},
"y2": {"datum": 5.334}
}
},
{
"data": {"name": "gx"},
"mark": {"type": "rule", "color": "#e8e8e8"},
"encoding": {
"x": {"field": "v", "type": "quantitative", "scale": {"domain": [29.0, 49.05], "range": [179, 462], "nice": false, "zero": false}},
"y": {"datum": 0.275, "type": "quantitative", "scale": {"domain": [0.275, 5.334], "range": [325, 48], "nice": false, "zero": false}},
"y2": {"datum": 5.334},
"strokeWidth": {"field": "k", "type": "nominal", "scale": {"domain": ["major", "minor"], "range": [1.4, 0.8]}, "legend": null}
}
},
{
"data": {"name": "gy"},
"mark": {"type": "rule", "color": "#e8e8e8"},
"encoding": {
"y": {"field": "v", "type": "quantitative", "scale": {"domain": [0.275, 5.334], "range": [325, 48], "nice": false, "zero": false}},
"x": {"datum": 29.0, "type": "quantitative", "scale": {"domain": [29.0, 49.05], "range": [179, 462], "nice": false, "zero": false}},
"x2": {"datum": 49.05},
"strokeWidth": {"field": "k", "type": "nominal", "scale": {"domain": ["major", "minor"], "range": [1.4, 0.8]}, "legend": null}
}
},
{
"data": {"values": [{}]},
"mark": {"type": "rect", "fill": null, "fillOpacity": 0, "stroke": "#333333", "strokeWidth": 1.5},
"encoding": {
"x": {"datum": 29.0, "type": "quantitative", "scale": {"domain": [29.0, 49.05], "range": [179, 462], "nice": false, "zero": false}},
"x2": {"datum": 49.05},
"y": {"datum": 0.275, "type": "quantitative", "scale": {"domain": [0.275, 5.334], "range": [325, 48], "nice": false, "zero": false}},
"y2": {"datum": 5.334}
}
},
{
"data": {"name": "inset"},
"transform": [{"filter": "datum.d === 'C'"}],
"mark": {"type": "circle", "size": 110, "opacity": 1},
"encoding": {
"x": {"field": "res", "type": "quantitative", "scale": {"domain": [29.0, 49.05], "range": [179, 462], "nice": false, "zero": false},
"axis": {"orient": "bottom", "offset": -177, "values": [30, 35, 40, 45], "format": ".0f", "grid": false, "domain": false,
"tickColor": "#333333", "tickSize": 4, "tickWidth": 1.2, "labelFontSize": 22, "labelColor": "#4d4d4d", "labelPadding": 1, "labelFlush": false,
"title": "FRC resolution (nm)", "titleFontSize": 27.5, "titleFontWeight": "normal", "titleColor": "#000000",
"titleX": 329, "titleY": 37, "titleBaseline": "top", "titleAlign": "center"}},
"y": {"field": "p", "type": "quantitative", "scale": {"domain": [0.275, 5.334], "range": [325, 48], "nice": false, "zero": false},
"axis": {"orient": "left", "offset": -179, "values": [1, 2, 3, 4, 5], "format": ".0f", "grid": false, "domain": false,
"tickColor": "#333333", "tickSize": 4, "tickWidth": 1.2, "labelFontSize": 22, "labelColor": "#4d4d4d", "labelPadding": 1, "labelFlush": false,
"title": ["Piezo distance", "from coverslip (µm)"], "titleFontSize": 27.5, "titleFontWeight": "normal", "titleColor": "#000000",
"titleX": -66, "titleY": 186.5, "titleAngle": 270, "titleBaseline": "alphabetic", "titleAlign": "center", "titleLineHeight": 32}},
"fill": {"field": "p", "type": "quantitative", "scale": {"type": "linear", "domain": [0.6, 1.7, 2.8, 3.9, 5.001], "range": ["#5ecde3", "#4ba74a", "#e3e21e", "#e8862a", "#e3182b"], "interpolate": "lab"}, "legend": null}
}
}
]
}
]
}
],
"spacing": 5,
"bounds": "flush",
"resolve": {"scale": {"stroke": "shared", "fill": "shared", "strokeWidth": "shared"}}
}
